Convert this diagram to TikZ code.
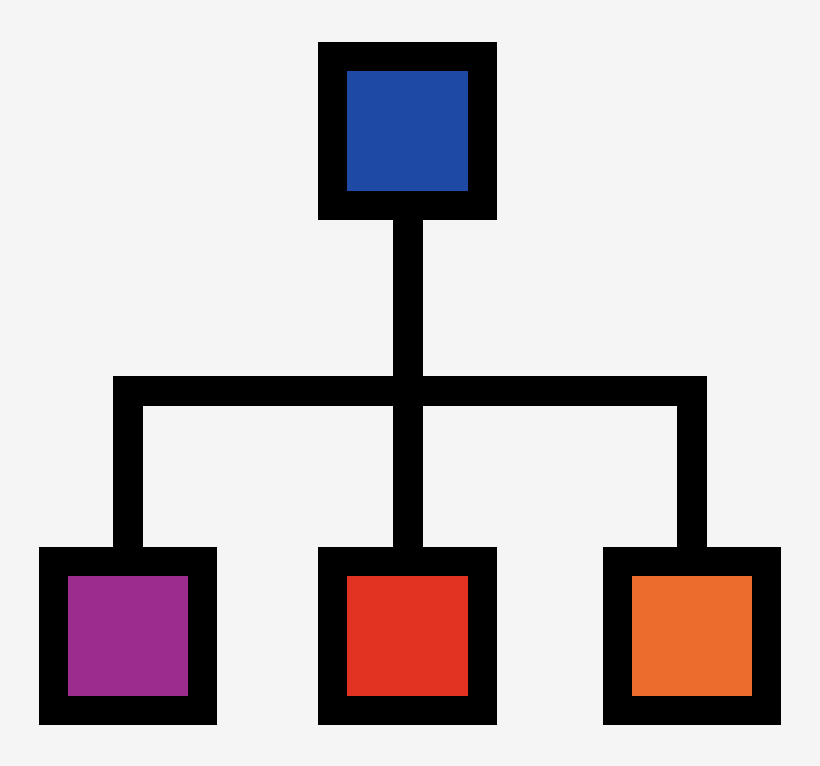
\documentclass[tikz,border=0pt]{standalone}
\usepackage{tikz}
\definecolor{bgcol}{RGB}{245,245,245}
\definecolor{topblue}{RGB}{30,74,166}
\definecolor{lpurple}{RGB}{156,45,143}
\definecolor{mred}{RGB}{226,50,34}
\definecolor{rorange}{RGB}{236,108,46}
\tikzset{
    every node/.style={rectangle, inner sep=0mm, draw=black, line width=0.725cm, minimum size=3.725cm}
}
\tikzset{link/.style={line width=0.75cm, black}}

\begin{document}
\begin{tikzpicture}[x=0.025cm, y=-0.025cm]
        \fill[bgcol] (0,0) rectangle (820,766);
        \node (v0) [fill=topblue] at (407.5, 130.8) {};
        \node (v1) [fill=lpurple] at (127.8, 636) {};
        \node (v2) [fill=mred] at (407.5, 636) {};
        \node (v3) [fill=rorange] at (692.2, 636) {};
        \coordinate (j) at (407.5, 391.4);
        \draw[link] (v0) -- (v2);
        \draw[link] (v1) |- (j) -| (v3);
\end{tikzpicture}
\end{document}
